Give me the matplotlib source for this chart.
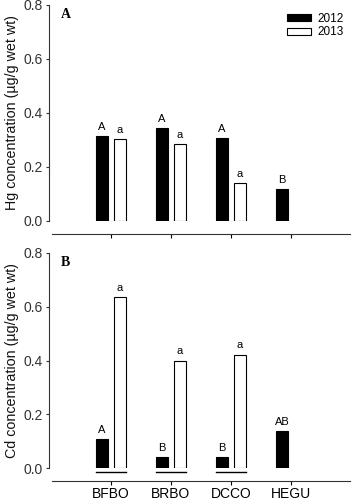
import numpy as np
import matplotlib
matplotlib.use('Agg')
import matplotlib.pyplot as plt
from matplotlib.patches import Patch

plt.rcParams['font.family'] = ['Liberation Sans', 'DejaVu Sans']

# Data
species = ['BFBO', 'BRBO', 'DCCO', 'HEGU']
hg_2012 = [0.314, 0.344, 0.308, 0.119]
hg_2013 = [0.304, 0.285, 0.139, np.nan]
cd_2012 = [0.108, 0.042, 0.041, 0.139]
cd_2013 = [0.635, 0.400, 0.422, np.nan]
hg_letters_2012 = ['A', 'A', 'A', 'B']
hg_letters_2013 = ['a', 'a', 'a', '']
cd_letters_2012 = ['A', 'B', 'B', 'AB']
cd_letters_2013 = ['a', 'a', 'a', '']
yticks = [0.0, 0.2, 0.4, 0.6, 0.8]

x = np.arange(len(species))
off = 0.15
w = 0.19

fig = plt.figure(figsize=(3.52, 5.0), dpi=100)
ax1 = fig.add_axes([0.1477, 0.558, 0.8466, 0.4326])
ax2 = fig.add_axes([0.1477, 0.0634, 0.8466, 0.4312])


def panel(ax, v12, v13, l12, l13, ylabel, tag, show_x):
    ax.bar(x - off, v12, w, color='black', edgecolor='black', linewidth=0.8)
    ax.bar(x + off, v13, w, color='white', edgecolor='black', linewidth=0.8)
    for i in range(len(x)):
        if not np.isnan(v12[i]):
            ax.annotate(l12[i], (x[i] - off, v12[i]), xytext=(0, 3), textcoords='offset points',
                        ha='center', va='bottom', fontsize=8)
        if not np.isnan(v13[i]):
            ax.annotate(l13[i], (x[i] + off, v13[i]), xytext=(0, 3), textcoords='offset points',
                        ha='center', va='bottom', fontsize=8)
    ax.set_xlim(-0.983, 3.983)
    ax.set_ylim(0, 0.8)
    ax.set_yticks(yticks)
    ax.set_yticklabels(['%.1f' % t for t in yticks], fontsize=8, color='#222222')
    ax.set_xticks(x)
    if show_x:
        ax.set_xticklabels(species, fontsize=8)
    else:
        ax.set_xticklabels([])
    ax.spines['top'].set_visible(False)
    ax.spines['right'].set_visible(False)
    ax.spines['left'].set_position(('outward', 2.2))
    ax.spines['bottom'].set_position(('outward', 9.2))
    for s in ['left', 'bottom']:
        ax.spines[s].set_linewidth(0.8)
        ax.spines[s].set_color('#333333')
    ax.tick_params(axis='y', length=2.5, width=0.8, pad=2, colors='#333333')
    ax.tick_params(axis='x', length=3, width=0.8, pad=1.5)
    ax.set_ylabel(ylabel, fontsize=10.3, labelpad=3, color='#111111')
    ax.text(0.03, 0.955, tag, transform=ax.transAxes, fontsize=10, fontweight='bold',
            family='Liberation Serif', va='center', ha='left')


panel(ax1, hg_2012, hg_2013, hg_letters_2012, hg_letters_2013,
      'Hg concentration (µg/g wet wt)', 'A', False)
panel(ax2, cd_2012, cd_2013, cd_letters_2012, cd_letters_2013,
      'Cd concentration (µg/g wet wt)', 'B', True)

# underlines below paired bars in panel B
for i in range(3):
    ax2.plot([x[i] - off - w / 2, x[i] + off + w / 2], [-0.015, -0.015], color='black',
             linewidth=1.0, clip_on=False)

handles = [Patch(facecolor='black', edgecolor='black', linewidth=0.8, label='2012'),
           Patch(facecolor='white', edgecolor='black', linewidth=0.8, label='2013')]
ax1.legend(handles=handles, loc='upper right', bbox_to_anchor=(0.995, 0.985), frameon=False,
           fontsize=8.5, handlelength=2.0, handleheight=0.5, handletextpad=0.55,
           labelspacing=0.15, borderaxespad=0.0)

fig.savefig('out.png', dpi=100)
